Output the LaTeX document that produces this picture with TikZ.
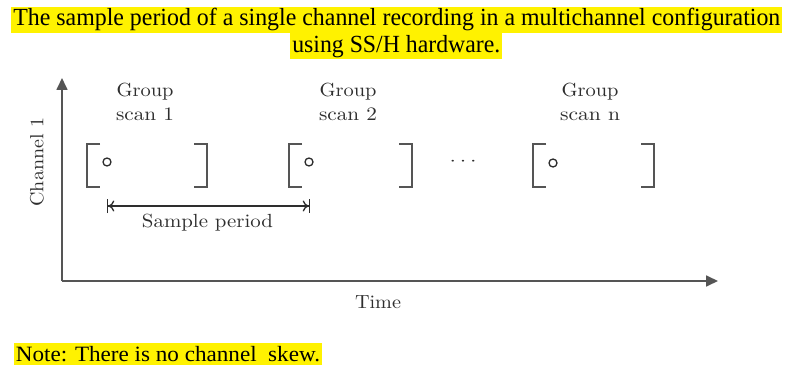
\documentclass[tikz,border=0pt]{standalone}
\usepackage{fontspec}
\newfontfamily\titlefont{Liberation Serif}
\newfontfamily\cmten{lmroman10-regular.otf}
\usetikzlibrary{arrows.meta}
\newcommand\fw[2]{\resizebox{#1}{\height}{#2}}
\newcommand\fwt[2]{\resizebox{#1}{1.12\height}{#2}}
\definecolor{ink}{HTML}{2E2E2E}
\definecolor{axisgray}{HTML}{555555}
\begin{document}
\begin{tikzpicture}[x=1pt,y=-1pt,
  hl/.style={fill=yellow, inner xsep=2pt, inner ysep=0pt, text=black},
  lbl/.style={inner sep=0pt, text=ink, font=\cmten\fontsize{19}{24}\selectfont, align=center},
  axis/.style={draw=axisgray, line width=1.7pt, -{Triangle[length=12pt,width=11pt]}},
  brk/.style={draw=axisgray, line width=1.4pt},
  dot/.style={draw=ink, line width=1.3pt}
]
\useasboundingbox (0,0) rectangle (786,366);
\fill[white] (0,0) rectangle (786,366);

% title
\node[hl, minimum height=26.3pt, font=\titlefont\fontsize{22}{26}\selectfont] (t1) at (396.8,19.9)
  {\fwt{767pt}{The sample period of a single channel recording in a multichannel configuration}};
\node[hl, minimum height=26pt, font=\titlefont\fontsize{22}{26}\selectfont] (t2) at (396.3,46.2)
  {\fwt{208pt}{using SS/H hardware.}};

% axes
\coordinate (o) at (62,281);
\coordinate (ytip) at (62,78);
\coordinate (xtip) at (718,281);
\draw[axis] (o) -- (ytip);
\draw[axis] (o) -- (xtip);
\node[lbl, rotate=90] (ylab) at (37,162) {\fw{89pt}{Channel 1}};
\node[lbl] (xlab) at (378,302) {\fw{46pt}{Time}};

% group scan labels
\node[lbl, anchor=north] (g1) at (145,83) {\fw{57pt}{Group}\\\fw{58pt}{scan 1}};
\node[lbl, anchor=north] (g2) at (348,83) {\fw{57pt}{Group}\\\fw{58pt}{scan 2}};
\node[lbl, anchor=north] (gn) at (590,83) {\fw{57pt}{Group}\\\fw{60pt}{scan n}};

% brackets
\foreach \l/\r in {87/207, 289/412, 533/654}{
  \draw[brk] (\l+13,144) -- (\l,144) -- (\l,187) -- (\l+13,187);
  \draw[brk] (\r-13,144) -- (\r,144) -- (\r,187) -- (\r-13,187);
}
\node[dot, circle, inner sep=0pt, minimum size=8pt] (c1) at (107,162) {};
\node[dot, circle, inner sep=0pt, minimum size=8pt] (c2) at (309,162) {};
\node[dot, circle, inner sep=0pt, minimum size=8pt] (cn) at (553,163) {};
\node[lbl] (dots) at (463,162) {\fw{27pt}{$\cdots$}};

% sample period
\coordinate (sp1) at (107,206);
\coordinate (sp2) at (310,206);
\draw[draw=ink, line width=1.3pt,
  {Bar[width=14pt] Computer Modern Rightarrow[length=6pt,width=11pt]}-{Computer Modern Rightarrow[length=6pt,width=11pt] Bar[width=14pt]}]
  (sp1) -- (sp2);
\node[lbl, anchor=base] (splab) at (207.5,227) {\fw{131pt}{Sample period}};

% note
\node[hl, minimum height=22.3pt, font=\titlefont\fontsize{19}{22}\selectfont] (note) at (168,354)
  {\resizebox{304pt}{1.15\height}{Note: There is no channel\ \ skew.}};
\end{tikzpicture}
\end{document}
